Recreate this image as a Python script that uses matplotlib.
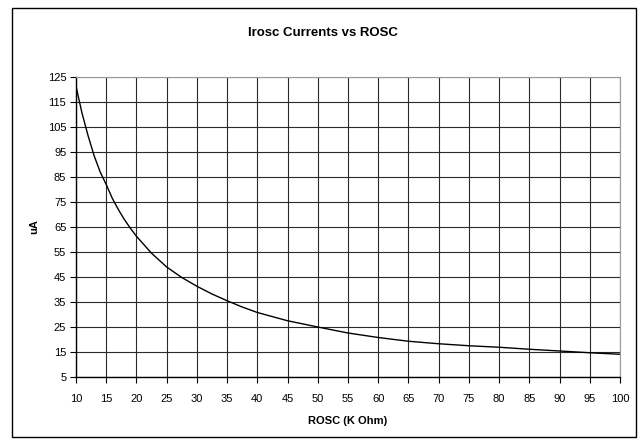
import matplotlib
matplotlib.use('Agg')
import matplotlib.pyplot as plt
from matplotlib.patches import Rectangle

plt.rcParams['font.family'] = ['Liberation Sans', 'DejaVu Sans']

# values
rosc = [10, 11, 12, 13, 14, 15, 16, 17, 18, 19, 20, 22.5, 25, 27.5, 30, 32.5, 35, 37.5,
        40, 45, 50, 55, 60, 65, 70, 75, 80, 85, 90, 95, 100]
irosc = [121.3, 110.5, 101.5, 93.5, 87, 82, 76.5, 72, 68, 64.5, 61.3, 54.5, 49, 44.8, 41.3, 38.2, 35.5, 33,
         30.8, 27.5, 25, 22.6, 20.8, 19.3, 18.3, 17.5, 16.9, 16.1, 15.4, 14.7, 14.1]

x_ticks = list(range(10, 101, 5))
y_ticks = list(range(5, 126, 10))

fig = plt.figure(figsize=(6.41, 4.40), dpi=100)
ax = fig.add_axes([76/641, 63/440, 544/641, 300/440])

ax.plot(rosc, irosc, color='black', linewidth=1.0)

ax.set_xlim(10, 100)
ax.set_ylim(5, 125)
ax.set_xticks(x_ticks)
ax.set_yticks(y_ticks)
ax.tick_params(labelsize=8, direction='out', length=4, width=0.8, colors='black')
ax.tick_params(axis='x', pad=8)
ax.tick_params(axis='y', pad=3)
ax.grid(True, color='#2a2a2a', linewidth=0.8)

for s in ['top', 'right']:
    ax.spines[s].set_color('#999999')
for s in ['left', 'bottom']:
    ax.spines[s].set_color('black')
    ax.spines[s].set_linewidth(1.0)

ax.set_xlabel('ROSC (K Ohm)', fontsize=8, fontweight='bold', labelpad=9)
ax.set_ylabel('uA', fontsize=8, fontweight='bold', labelpad=6)
fig.text(323/641, 1 - 33/440, 'Irosc Currents vs ROSC', ha='center', va='center',
         fontsize=9.5, fontweight='bold')

fig.patches.append(Rectangle((12/641, 3/440), 624/641, 429/440, transform=fig.transFigure,
                             fill=False, edgecolor='black', linewidth=1.0))

fig.savefig('out.png', dpi=100)
